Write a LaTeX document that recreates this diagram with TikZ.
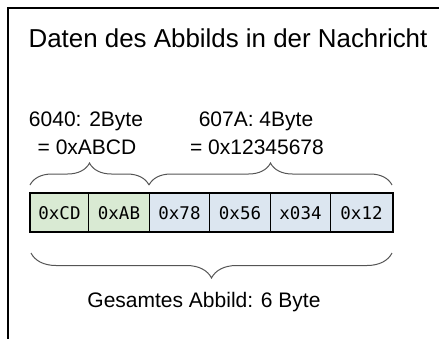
\documentclass[tikz,border=0pt]{standalone}
\usepackage{fontspec}
\setmainfont{Liberation Sans}
\newfontfamily\cellfont{DejaVu Sans Mono}
\usetikzlibrary{decorations.pathreplacing}
\definecolor{cgreen}{HTML}{D9EAD3}
\definecolor{cblue}{HTML}{DCE6F0}
\definecolor{bracegray}{HTML}{555555}
\begin{document}
\begin{tikzpicture}[x=1pt,y=-1pt,
  lbl/.style={inner sep=0pt,anchor=base,font=\fontsize{21}{25}\selectfont},
  cell/.style={draw=black,line width=1pt,minimum height=38pt,inner sep=0pt,anchor=north west,font=\cellfont\fontsize{17.5}{20}\selectfont},
  brc/.style={draw=bracegray,line width=1pt,decorate,decoration={brace,amplitude=#1}}]
\useasboundingbox (0,0) rectangle (439,338);
\draw[line width=2pt] (8,345) -- (8,8) -- (450,8);
\node[inner sep=0pt,anchor=base,font=\fontsize{25.9}{30}\selectfont] (title) at (228,47) {Daten des Abbilds in der Nachricht};
\node[lbl] (l1a) at (86,126) {6040: 2Byte};
\node[lbl] (l1b) at (87,154) {= 0xABCD};
\node[lbl] (l2a) at (256,126) {607A: 4Byte};
\node[lbl] (l2b) at (257,154) {= 0x12345678};
\node[cell,fill=cgreen,minimum width=58pt] (c1) at (30,193) {};
\node[cell,fill=cgreen,minimum width=61pt] (c2) at (88,193) {};
\node[cell,fill=cblue,minimum width=60pt] (c3) at (149,193) {};
\node[cell,fill=cblue,minimum width=61pt] (c4) at (209,193) {};
\node[cell,fill=cblue,minimum width=60pt] (c5) at (270,193) {};
\node[cell,fill=cblue,minimum width=62pt] (c6) at (330,193) {};
\draw[line width=2pt] (c1.north west) rectangle (c6.south east);
\foreach \n/\t in {c1/0xCD,c2/0xAB,c3/0x78,c4/0x56,c5/x034,c6/0x12}{
  \node[inner sep=0pt,anchor=base,font=\cellfont\fontsize{17.5}{20}\selectfont] (t\n) at ([yshift=-26pt]\n.north) {\t};
}
\coordinate (b1s) at (30,185);
\coordinate (b1e) at (149,185);
\coordinate (b2e) at (392,185);
\coordinate (b3s) at (392,253);
\coordinate (b3e) at (31,253);
\draw[brc=22pt] (b1s) -- (b1e);
\draw[brc=22pt] (b1e) -- (b2e);
\draw[brc=25pt] (b3s) -- (b3e);
\node[lbl] (total) at (204,307) {Gesamtes Abbild: 6 Byte};
\end{tikzpicture}
\end{document}
